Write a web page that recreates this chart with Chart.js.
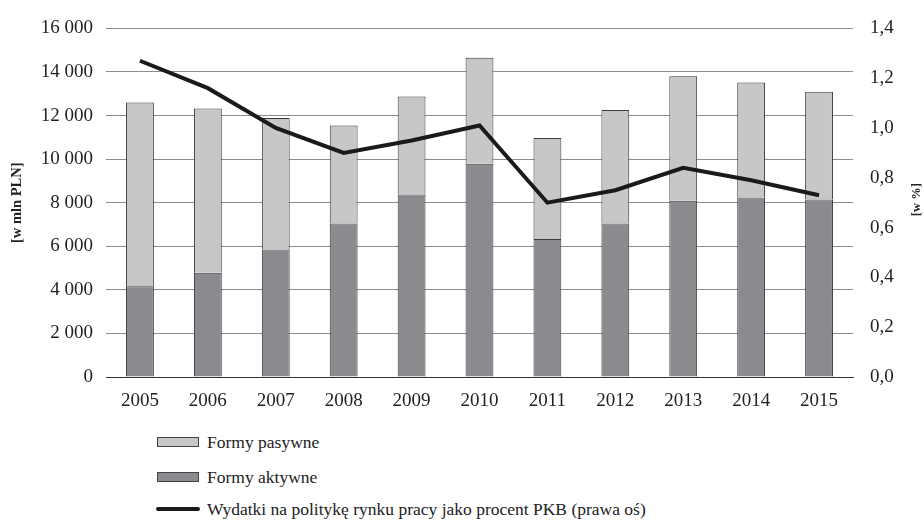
<!DOCTYPE html>
<html>
<head>
<meta charset="utf-8">
<script src="https://cdn.jsdelivr.net/npm/chart.js@4"></script>
<style>
  body { margin: 0; background: #fff; overflow: hidden; }
  #wrap { position: relative; width: 924px; height: 521px; }
  #box { position: absolute; left: 0; top: 0; width: 924px; height: 420px; }
  .legend { position: absolute; left: 157px; top: 0; font-family: "Liberation Serif", serif; font-size: 17.5px; color: #222; }
  .legend div { position: absolute; white-space: nowrap; display: flex; align-items: center; height: 20px; line-height: 20px; }
  .sw { width: 42px; height: 10px; border: 1px solid #444; margin-right: 8px; box-sizing: border-box; }
  .ln { width: 44px; height: 4px; background: #1a1a1a; border-radius: 2px; margin-left: -1px; margin-right: 7px; }
</style>
</head>
<body>
<div id="wrap">
  <div id="box"><canvas id="chart"></canvas></div>
  <div class="legend">
    <div style="top:432px"><span class="sw" style="background:#c6c7c9"></span>Formy pasywne</div>
    <div style="top:467px"><span class="sw" style="background:#8a8b8e"></span>Formy aktywne</div>
    <div style="top:499px"><span class="ln"></span>Wydatki na politykę rynku pracy jako procent PKB (prawa oś)</div>
  </div>
</div>
<script>
// lata
const years = ['2005', '2006', '2007', '2008', '2009', '2010', '2011', '2012', '2013', '2014', '2015'];
// formy aktywne [mln PLN]
const aktywne = [4160, 4790, 5850, 7050, 8380, 9790, 6330, 7050, 8090, 8240, 8150];
// formy pasywne [mln PLN]
const pasywne = [8440, 7530, 6040, 4490, 4500, 4860, 4640, 5200, 5710, 5280, 4940];
// wydatki jako % PKB (prawa os)
const procentPKB = [1.27, 1.16, 1.00, 0.90, 0.95, 1.01, 0.70, 0.75, 0.84, 0.79, 0.73];

const serif = '"Liberation Serif", serif';

// tytul prawej osi czytany od dolu (jak lewy)
const rightTitle = {
  id: 'rightTitle',
  afterDraw(chart) {
    const s = chart.scales.y1;
    const ctx = chart.ctx;
    ctx.save();
    ctx.translate(s.right - 7, (s.top + s.bottom) / 2 - 3);
    ctx.rotate(-Math.PI / 2);
    ctx.font = 'bold 12.5px ' + serif;
    ctx.fillStyle = '#222';
    ctx.textAlign = 'center';
    ctx.textBaseline = 'middle';
    ctx.fillText('[w %]', 0, 0);
    ctx.restore();
  }
};

new Chart(document.getElementById('chart'), {
  type: 'bar',
  data: {
    labels: years,
    datasets: [
      {
        type: 'line',
        label: 'Wydatki na politykę rynku pracy jako procent PKB (prawa oś)',
        data: procentPKB,
        yAxisID: 'y1',
        borderColor: '#1a1a1a',
        borderWidth: 4,
        pointRadius: 0,
        tension: 0,
        order: 0,
      },
      {
        label: 'Formy aktywne',
        data: aktywne,
        backgroundColor: '#8a8b8e',
        borderColor: '#3a3a3a',
        borderWidth: 1,
        stack: 'a',
        order: 1,
      },
      {
        label: 'Formy pasywne',
        data: pasywne,
        backgroundColor: '#c6c7c9',
        borderColor: '#3a3a3a',
        borderWidth: 1,
        stack: 'a',
        order: 1,
      },
    ],
  },
  options: {
    responsive: true,
    maintainAspectRatio: false,
    animation: false,
    layout: { padding: { top: 23, left: 0, right: 0, bottom: 0 } },
    datasets: { bar: { categoryPercentage: 1, barPercentage: 0.41 } },
    plugins: {
      legend: { display: false },
      tooltip: { enabled: false },
    },
    scales: {
      x: {
        stacked: true,
        grid: { display: false, drawTicks: false },
        border: { color: '#333', width: 1 },
        ticks: { color: '#222', font: { family: serif, size: 19 }, padding: 13 },
        afterFit: s => { s.height = 43; },
      },
      y: {
        stacked: true,
        min: 0,
        max: 16000,
        grid: { color: '#8c8c8c', lineWidth: 1, drawTicks: false },
        border: { display: false },
        ticks: {
          stepSize: 2000,
          padding: 13,
          color: '#222',
          font: { family: serif, size: 19 },
          callback: v => String(v).replace(/\B(?=(\d{3})+(?!\d))/g, ' '),
        },
        title: {
          display: true,
          text: '[w mln PLN]',
          color: '#222',
          font: { family: serif, size: 14.5, weight: 'bold' },
          padding: { top: 9, bottom: 0 },
        },
        afterFit: s => { s.width = 106; },
      },
      y1: {
        position: 'right',
        min: 0,
        max: 1.4,
        grid: { display: false, drawTicks: false },
        border: { display: false },
        ticks: {
          stepSize: 0.2,
          padding: 17,
          color: '#222',
          font: { family: serif, size: 19 },
          callback: v => v.toFixed(1).replace('.', ','),
        },
        afterFit: s => { s.width = 71; },
      },
    },
  },
  plugins: [rightTitle],
});
</script>
</body>
</html>
